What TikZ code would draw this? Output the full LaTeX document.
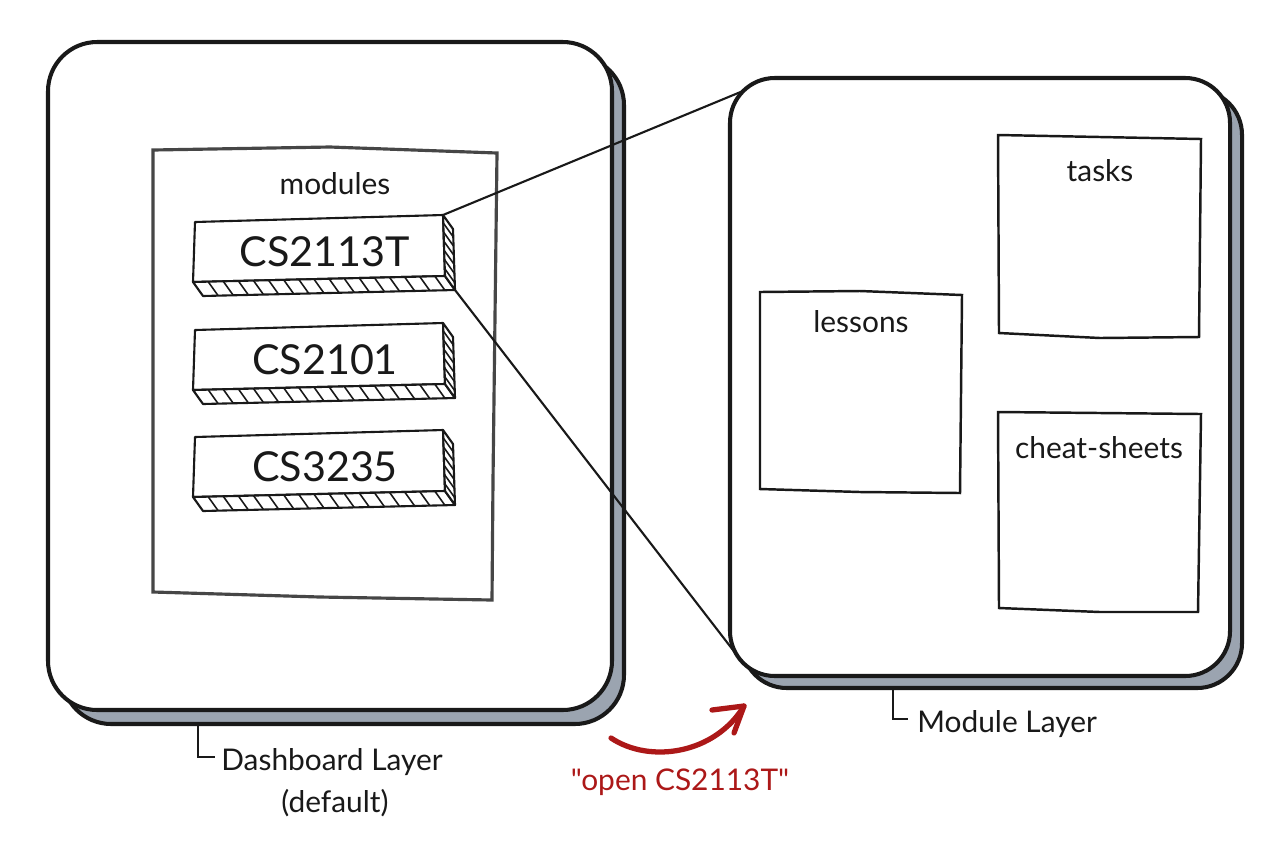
\documentclass[tikz,border=0pt]{standalone}
\usepackage{fontspec}
\setmainfont{Lato}
\newfontfamily\quotefont{Lato}[Ligatures=ResetAll]
\usetikzlibrary{calc}
\definecolor{shadowgray}{RGB}{155,164,176}
\definecolor{boxgray}{RGB}{70,70,70}
\definecolor{ink}{RGB}{25,25,25}
\definecolor{redink}{RGB}{172,24,24}
\tikzset{
  panelfront/.style={draw=ink, line width=2.3pt, fill=white},
  panelshadow/.style={draw=ink, line width=2.3pt, fill=shadowgray},
  sketchbox/.style={draw=ink, line width=1.4pt, fill=white},
  modbox/.style={draw=boxgray, line width=1.8pt},
  btnline/.style={draw=ink, line width=1.2pt, line join=round},
  hatch/.style={draw=ink, line width=0.9pt},
  conn/.style={draw=ink, line width=1.2pt},
  lbl/.style={text=ink, font=\fontsize{17}{20}\selectfont, inner sep=0pt},
  btntext/.style={text=ink, font=\fontsize{23.5}{26}\selectfont, inner sep=0pt},
  bracket/.style={draw=ink, line width=1.6pt}
}
\begin{document}
\begin{tikzpicture}[x=0.02cm,y=-0.02cm]
\useasboundingbox (0,0) rectangle (1280,853);

% ---------- left panel ----------
\draw[panelshadow, rounded corners=28pt] (62,56) rectangle (624,724);
\draw[panelfront, rounded corners=28pt] (48,42) rectangle (612,710);
\coordinate (dashbl) at (198,724);

% modules box
\draw[modbox] (153,150) -- (330,147) -- (497,153) -- (493,480) -- (492,600) -- (320,597) -- (153,592) -- cycle;
\node[lbl] (modules) at (335,184) {modules};

% buttons
\foreach \name/\y/\txt in {b1/222/CS2113T, b2/330/CS2101, b3/437/CS3235}{
  \coordinate (\name tl) at (195,\y);
  \coordinate (\name tr) at (443,\y-7);
  \coordinate (\name br) at (445,\y+54);
  \coordinate (\name bl) at (193,\y+60);
  \coordinate (\name brx) at ($(\name br)+(10,14)$);
  \coordinate (\name blx) at ($(\name bl)+(10,14)$);
  \coordinate (\name trx) at ($(\name tr)+(10,14)$);
  \draw[btnline, fill=white] (\name tl) -- (\name tr) -- (\name br) -- (\name bl) -- cycle;
  \draw[btnline, fill=white] (\name bl) -- (\name br) -- (\name brx) -- (\name blx) -- cycle;
  \draw[btnline, fill=white] (\name tr) -- (\name trx) -- (\name brx) -- (\name br) -- cycle;
  \foreach \t in {0.06,0.12,...,0.97}{
    \draw[hatch] ($(\name bl)!\t!(\name br)$) -- +(10,14);
  }
  \foreach \t in {0.13,0.28,...,0.9}{
    \draw[hatch] ($(\name tr)!\t!(\name br)$) -- +(10,14);
  }
  \node[btntext] (\name) at (325,\y+30) {\txt};
}

% ---------- right panel ----------
\draw[panelshadow, rounded corners=25.5pt] (742,90) rectangle (1242,688);
\draw[panelfront, rounded corners=25.5pt] (730,78) rectangle (1230,676);
\coordinate (modtl) at (743,91);
\coordinate (modbl) at (743,663);

\draw[sketchbox] (998,135) -- (1100,137) -- (1201,139) -- (1199,337) -- (1100,338) -- (999,333) -- cycle;
\node[lbl] (tasks) at (1100,171) {tasks};
\draw[sketchbox] (760,292) -- (860,291) -- (962,295) -- (960,493) -- (860,492) -- (760,489) -- cycle;
\node[lbl] (lessons) at (861,322) {lessons};
\draw[sketchbox] (998,412) -- (1100,413) -- (1201,414) -- (1198,612) -- (1100,612) -- (999,608) -- cycle;
\node[lbl] (cheat) at (1099,448) {cheat-sheets};

% ---------- connectors ----------
\draw[conn] (b1tr) -- (modtl);
\draw[conn] (b1brx) -- (modbl);

% ---------- labels ----------
\draw[bracket] (dashbl) -- (198,757) -- (215,757);
\node[lbl, anchor=west] (dashlbl) at (221,762) {Dashboard Layer};
\node[lbl] (dashdef) at (335,803) {(default)};

\coordinate (modlayerbr) at (893,688);
\draw[bracket] (modlayerbr) -- (893,719) -- (908,719);
\node[lbl, anchor=west] (modlbl) at (917,724) {Module Layer};

% ---------- red arrow ----------
\coordinate (arrs) at (611,738);
\coordinate (arre) at (744,706);
\draw[redink, line width=3pt, line cap=round] (arrs) .. controls (650,764) and (715,754) .. (arre);
\draw[redink, line width=3pt, line cap=round, line join=round] (712,710) -- (arre) -- (734,733);
\node[text=redink, font=\quotefont\fontsize{17}{20}\selectfont, inner sep=0pt] (openlbl) at (680,782) {"open CS2113T"};
\end{tikzpicture}
\end{document}
